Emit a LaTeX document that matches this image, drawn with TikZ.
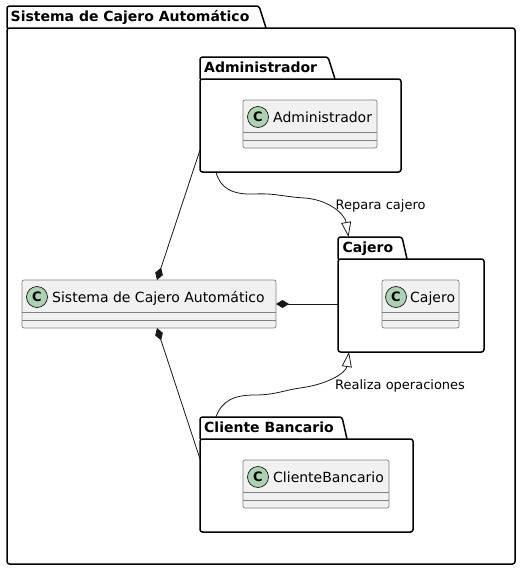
\documentclass[tikz,border=0pt]{standalone}
\usepackage{fontspec}
\setmainfont{DejaVu Sans}
\usetikzlibrary{arrows.meta}
\definecolor{clsfill}{HTML}{F1F1F1}
\definecolor{clsdraw}{HTML}{808080}
\definecolor{icondraw}{HTML}{181818}
\definecolor{circfill}{HTML}{ADD1B2}
\definecolor{linecol}{HTML}{181818}
\begin{document}
\begin{tikzpicture}[x=1pt,y=-1pt,
  pkgline/.style={line width=1.5pt, draw=black, rounded corners=2.5pt},
  pkgbody/.style={rectangle, draw=black, line width=1.5pt, rounded corners=2.5pt, inner sep=0pt, outer sep=0pt, anchor=north west},
  pkgtitle/.style={anchor=base west, inner sep=0pt, font=\fontsize{14}{16}\selectfont\bfseries},
  clsbox/.style={rectangle, draw=clsdraw, fill=clsfill, line width=0.7pt, rounded corners=2pt, inner sep=0pt, outer sep=0pt, minimum height=48pt, anchor=north west},
  clssep/.style={draw=clsdraw, line width=0.7pt},
  clsicon/.style={circle, draw=icondraw, fill=circfill, line width=0.7pt, minimum size=21pt, inner sep=0pt, font=\fontsize{13}{15}\selectfont\bfseries},
  clsname/.style={anchor=base west, inner sep=0pt, font=\fontsize{14}{16}\selectfont},
  edgelabel/.style={anchor=base west, inner sep=0pt, font=\fontsize{13}{15}\selectfont},
  comp/.style={draw=linecol, line width=0.8pt, -{Diamond[length=13pt,width=8pt,fill=linecol]}},
  gen/.style={draw=linecol, line width=0.8pt, -{Triangle[open,length=15pt,width=10pt,line width=0.8pt]}}
]
\useasboundingbox (0,0) rectangle (521,570);

% outer package
\draw[pkgline] (7,28) -- (7,6) -- (259,6) -- (266,28);
\node[pkgbody, minimum width=508pt, minimum height=536pt] (outerpkg) at (7,28) {};
\node[pkgtitle] (outertitle) at (10.5,21) {Sistema de Cajero Automático};

% Administrador package
\draw[pkgline] (200,79) -- (200,57) -- (328,57) -- (335,79);
\node[pkgbody, minimum width=201pt, minimum height=93pt] (adminpkg) at (200,79) {};
\node[pkgtitle] (admintitle) at (204,72) {Administrador};
\node[clsbox, minimum width=134pt] (admincls) at (243,100) {};
\draw[clssep] ([yshift=-32pt]admincls.north west) -- ([yshift=-32pt]admincls.north east);
\draw[clssep] ([yshift=-40pt]admincls.north west) -- ([yshift=-40pt]admincls.north east);
\node[clsicon] (adminicon) at (258,117) {C};
\node[clsname] (adminname) at (273,122) {Administrador};

% Cajero package
\draw[pkgline] (338,259) -- (338,237) -- (402,237) -- (407,259);
\node[pkgbody, minimum width=146pt, minimum height=93pt] (cajeropkg) at (338,259) {};
\node[pkgtitle] (cajerotitle) at (342.5,252) {Cajero};
\node[clsbox, minimum width=77pt] (cajerocls) at (382,280) {};
\draw[clssep] ([yshift=-32pt]cajerocls.north west) -- ([yshift=-32pt]cajerocls.north east);
\draw[clssep] ([yshift=-40pt]cajerocls.north west) -- ([yshift=-40pt]cajerocls.north east);
\node[clsicon] (cajeroicon) at (396,297) {C};
\node[clsname] (cajeroname) at (410,302) {Cajero};

% Cliente Bancario package
\draw[pkgline] (200,439) -- (200,417) -- (342,417) -- (347,439);
\node[pkgbody, minimum width=213pt, minimum height=93pt] (clientepkg) at (200,439) {};
\node[pkgtitle] (clientetitle) at (204,432) {Cliente Bancario};
\node[clsbox, minimum width=146pt] (clientecls) at (243,460) {};
\draw[clssep] ([yshift=-32pt]clientecls.north west) -- ([yshift=-32pt]clientecls.north east);
\draw[clssep] ([yshift=-40pt]clientecls.north west) -- ([yshift=-40pt]clientecls.north east);
\node[clsicon] (clienteicon) at (258,477) {C};
\node[clsname] (clientename) at (273,482) {ClienteBancario};

% Sistema class
\node[clsbox, minimum width=254pt] (sistema) at (22,280) {};
\draw[clssep] ([yshift=-32pt]sistema.north west) -- ([yshift=-32pt]sistema.north east);
\draw[clssep] ([yshift=-40pt]sistema.north west) -- ([yshift=-40pt]sistema.north east);
\node[clsicon] (sistemaicon) at (37,297) {C};
\node[clsname] (sistemaname) at (52,302) {Sistema de Cajero Automático};

% composition connectors
\draw[comp] ([yshift=-24.5pt]adminpkg.west) -- ([xshift=8pt]sistema.north);
\draw[comp] ([yshift=1.5pt]cajeropkg.west) -- ([yshift=0pt]sistema.east);
\draw[comp] ([yshift=26.5pt]clientepkg.west) -- ([xshift=8pt]sistema.south);

% generalization connectors
\coordinate (reparastart) at ([xshift=16pt]adminpkg.south west);
\coordinate (reparaend) at ([xshift=10.5pt,yshift=22pt]cajeropkg.north west);
\draw[gen] (reparastart) .. controls (220,188) and (232,195) .. (255,194)
  .. controls (275,193) and (285,197) .. (305,198)
  .. controls (330,200) and (345,215) .. (reparaend);
\node[edgelabel] (reparalabel) at (335.5,209.5) {Repara cajero};

\coordinate (realizastart) at ([xshift=16pt,yshift=22pt]clientepkg.north west);
\coordinate (realizaend) at ([xshift=11pt]cajeropkg.south west);
\draw[gen] (realizastart) .. controls (222,400) and (235,395) .. (255,395)
  .. controls (275,395) and (285,390) .. (300,388)
  .. controls (330,384) and (346,372) .. (realizaend);
\node[edgelabel] (realizalabel) at (335,389.5) {Realiza operaciones};
\end{tikzpicture}
\end{document}
